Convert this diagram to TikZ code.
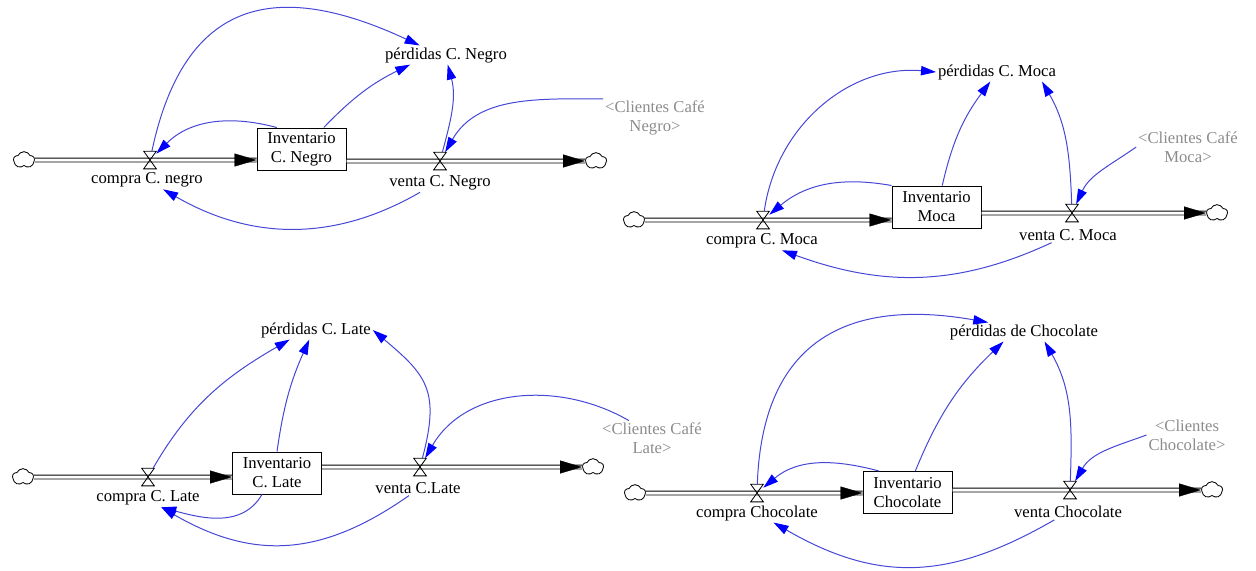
\documentclass[tikz,border=0pt]{standalone}
\usepackage{fontspec}
\setmainfont{Liberation Serif}
\usetikzlibrary{arrows.meta,shapes.symbols}

\definecolor{linkblue}{RGB}{70,70,215}
\definecolor{shadowgray}{RGB}{140,140,140}

\tikzset{
  stock/.style={draw, line width=.6pt, minimum width=53.4pt, minimum height=25.2pt, align=center, inner sep=1pt},
  valve/.style={minimum width=7.2pt, minimum height=10.2pt, inner sep=0pt},
  source/.style={cloud, cloud puffs=5, cloud puff arc=130, draw, line width=.5pt, minimum width=12.6pt, minimum height=10pt, inner sep=0pt},
  pipe/.style={draw, line width=.55pt, double distance=1.8pt},
  pipehead/.style={draw=white, line width=.2pt, -{Triangle[length=13.2pt,width=7.8pt,color=black]}},
  link/.style={linkblue, line width=.6pt, -{Triangle[length=9pt,width=5.6pt,color=blue]}},
  varname/.style={inner sep=1pt, align=center},
  shadowvar/.style={varname, text=shadowgray}
}

\begin{document}
\begin{tikzpicture}[x=.6pt, y=.6pt, font=\fontsize{10}{11.4}\selectfont]
\useasboundingbox (0,0) rectangle (1256,-570);

% cafe negro
\node[source] (src1) at (24,-160) {};
\node[valve] (in1) at (150,-160) {};
\node[varname] (lin1) at (147,-180) {compra C. negro};
\node[stock] (inv1) at (301.5,-149) {Inventario\\C. Negro};
\node[valve] (out1) at (440,-161) {};
\node[varname] (lout1) at (440,-183) {venta C. Negro};
\node[source] (snk1) at (596,-161) {};
\node[varname] (loss1) at (446,-55) {pérdidas C. Negro};
\node[shadowvar] (cli1) at (655,-118) {<Clientes Café\\Negro>};

% moca
\node[source] (src2) at (634,-220) {};
\node[valve] (in2) at (763,-220) {};
\node[varname] (lin2) at (762,-241) {compra C. Moca};
\node[stock] (inv2) at (936.5,-207) {Inventario\\Moca};
\node[valve] (out2) at (1072,-213) {};
\node[varname] (lout2) at (1068,-235) {venta C. Moca};
\node[source] (snk2) at (1217,-213) {};
\node[varname] (loss2) at (997,-72) {pérdidas C. Moca};
\node[shadowvar] (cli2) at (1188,-147) {<Clientes Café\\Moca>};

% late
\node[source] (src3) at (23,-477) {};
\node[valve] (in3) at (148,-477) {};
\node[varname] (lin3) at (148,-498) {compra C. Late};
\node[stock] (inv3) at (277,-473) {Inventario\\C. Late};
\node[valve] (out3) at (420,-467) {};
\node[varname] (lout3) at (418,-488) {venta C.Late};
\node[source] (snk3) at (593,-467) {};
\node[varname] (loss3) at (316,-330) {pérdidas C. Late};
\node[shadowvar] (cli3) at (652,-438) {<Clientes Café\\Late>};

% chocolate
\node[source] (src4) at (635,-493) {};
\node[valve] (in4) at (757,-493) {};
\node[varname] (lin4) at (757,-513) {compra Chocolate};
\node[stock] (inv4) at (907.5,-492.5) {Inventario\\Chocolate};
\node[valve] (out4) at (1070,-490) {};
\node[varname] (lout4) at (1068,-512) {venta Chocolate};
\node[source] (snk4) at (1212,-490) {};
\node[varname] (loss4) at (1024,-332) {pérdidas de Chocolate};
\node[shadowvar] (cli4) at (1187,-435) {<Clientes\\Chocolate>};

% pipes
\foreach \i in {1,2,3,4} {
  \draw[pipe] (src\i.east) -- (src\i -| inv\i.west);
  \draw[pipehead] (in\i) -- (src\i -| inv\i.west);
  \draw[pipe] (inv\i.east |- out\i) -- (snk\i.west);
  \draw[pipehead] (out\i) -- (snk\i.west);
  \draw[line width=.5pt] (in\i.north west) -- (in\i.north east) -- (in\i.south west) -- (in\i.south east) -- cycle;
  \draw[line width=.5pt] (out\i.north west) -- (out\i.north east) -- (out\i.south west) -- (out\i.south east) -- cycle;
}

% links
\draw[link] (in1) to[out=78,in=155,looseness=1.4] (loss1.160);
\draw[link] (inv1.139) to[out=165,in=45] (in1);
\draw[link] (inv1.44) to[bend left=10] (loss1.195);
\draw[link] (out1) to[out=75,in=-75] (loss1.-80);
\draw[link] (cli1.north west) to[out=180,in=60] (out1);
\draw[link] (lout1.205) to[out=-150,in=-30] (lin1.-30);

\draw[link] (in2) to[out=82,in=175] (loss2.west);
\draw[link] (inv2.north west) to[out=170,in=40] (in2);
\draw[link] (inv2.75) to[bend left=12] (loss2.235);
\draw[link] (out2) to[out=92,in=-60] (loss2.-12);
\draw[link] (cli2.west) to[out=215,in=65] (out2);
\draw[link] (lout2.205) to[out=-155,in=-20] (lin2.-25);

\draw[link] (in3) to[out=60,in=210] (loss3.200);
\draw[link] (inv3.north) to[bend left=8] (loss3.235);
\draw[link] (out3) to[out=75,in=-40,looseness=1.3] (loss3.east);
\draw[link] (cli3.143) to[out=150,in=60] (out3);
\draw[link] (inv3.235) to[out=-120,in=-15] (lin3.-35);
\draw[link] (lout3.220) to[out=-145,in=-30,looseness=1.1] (lin3.-35);

\draw[link] (in4) to[out=88,in=170,looseness=1.3] (loss4.165);
\draw[link] (inv4.143) to[out=165,in=40] (in4);
\draw[link] (inv4.70) to[bend left=12] (loss4.205);
\draw[link] (out4) to[out=88,in=-60] (loss4.-25);
\draw[link] (cli4.west) to[out=200,in=60] (out4);
\draw[link] (lout4.210) to[out=-150,in=-30,looseness=1.1] (lin4.-30);
\end{tikzpicture}
\end{document}
